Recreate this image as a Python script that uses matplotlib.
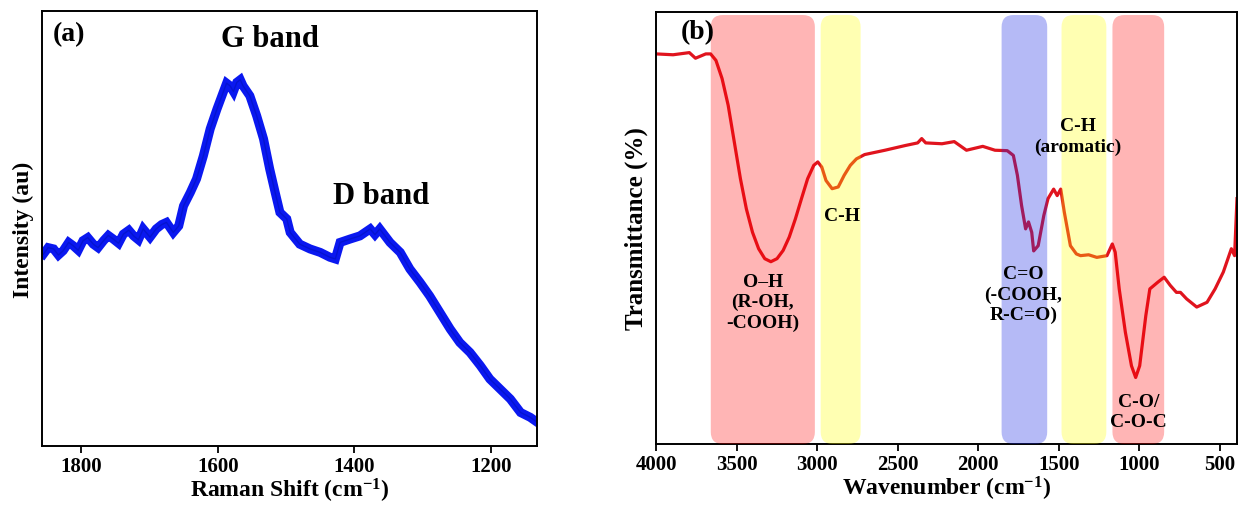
import matplotlib
matplotlib.use("Agg")
import matplotlib.pyplot as plt
import matplotlib.transforms as mtransforms
from matplotlib.patches import FancyBboxPatch

plt.rcParams["font.family"] = ["Liberation Serif", "DejaVu Serif"]
plt.rcParams["font.weight"] = "bold"
plt.rcParams["axes.labelweight"] = "bold"
plt.rcParams["mathtext.fontset"] = "custom"
plt.rcParams["mathtext.rm"] = "Liberation Serif:bold"
plt.rcParams["mathtext.it"] = "Liberation Serif:bold"
plt.rcParams["mathtext.bf"] = "Liberation Serif:bold"

# ---------------- (a) Raman spectrum
raman_shift = [1855, 1848, 1840, 1833, 1826, 1818, 1811, 1804, 1797, 1790,
               1782, 1775, 1767, 1760, 1753, 1745, 1738, 1730, 1723, 1716,
               1709, 1699, 1690, 1682, 1675, 1665, 1657, 1650, 1640, 1631,
               1621, 1611, 1601, 1592, 1587, 1582, 1577, 1572, 1567, 1563,
               1553, 1543, 1533, 1524, 1516, 1509, 1499, 1494, 1480, 1465,
               1450, 1436, 1428, 1421, 1406, 1392, 1377, 1370, 1363, 1348,
               1333, 1319, 1304, 1290, 1275, 1260, 1246, 1231, 1216, 1202,
               1187, 1172, 1157, 1143, 1133]
raman_intensity = [44.1, 45.6, 45.3, 43.9, 44.9, 46.8, 46.0, 45.0, 47.2, 47.9,
                   46.4, 45.6, 47.2, 48.4, 47.6, 46.6, 48.7, 49.6, 48.3, 47.4,
                   49.9, 48.0, 49.9, 50.9, 51.4, 49.1, 50.6, 55.2, 58.3, 61.4,
                   66.7, 72.9, 77.5, 81.3, 83.4, 82.8, 81.5, 83.6, 84.2, 82.8,
                   80.5, 75.9, 70.6, 63.7, 58.3, 53.7, 52.2, 49.1, 46.4, 45.3,
                   44.5, 43.4, 43.0, 46.8, 47.6, 48.3, 49.9, 48.6, 49.9, 46.8,
                   44.5, 40.7, 37.6, 34.5, 30.7, 26.9, 23.8, 21.5, 18.5, 15.4,
                   13.1, 10.8, 7.7, 6.6, 5.5]
raman_ticks = [1800, 1600, 1400, 1200]

# ---------------- (b) FTIR spectrum
wavenumber = [4000, 3894, 3793, 3755, 3691, 3661, 3628, 3590, 3552, 3514,
              3476, 3439, 3401, 3363, 3325, 3287, 3249, 3211, 3173, 3135,
              3097, 3059, 3021, 2996, 2971, 2945, 2907, 2869, 2832, 2794,
              2756, 2705, 2579, 2452, 2376, 2351, 2326, 2225, 2149, 2073,
              1972, 1896, 1820, 1782, 1757, 1731, 1706, 1688, 1668, 1656,
              1628, 1593, 1567, 1532, 1510, 1488, 1466, 1428, 1391, 1365,
              1315, 1264, 1201, 1168, 1150, 1125, 1087, 1049, 1023, 998,
              960, 935, 884, 846, 808, 770, 745, 707, 644, 580,
              530, 479, 429, 409, 394]
transmittance = [90.3, 90.1, 90.6, 89.3, 90.3, 90.3, 88.8, 84.6, 78.4, 69.9,
                 61.4, 54.4, 49.0, 45.2, 42.9, 42.2, 42.9, 44.8, 47.9, 52.1,
                 56.8, 61.4, 64.5, 65.3, 64.1, 61.0, 59.1, 59.5, 62.2, 64.5,
                 66.0, 67.0, 68.0, 69.1, 69.7, 70.7, 69.7, 69.5, 70.0, 68.0,
                 68.9, 68.0, 67.9, 66.8, 62.2, 55.2, 49.8, 51.4, 49.0, 44.7,
                 45.9, 52.9, 56.8, 59.0, 57.5, 59.0, 53.7, 45.9, 44.0, 43.6,
                 43.8, 43.2, 43.6, 46.3, 44.4, 35.9, 25.9, 18.1, 15.4, 18.1,
                 29.7, 35.9, 37.5, 38.6, 36.7, 35.1, 35.1, 33.6, 31.7, 32.8,
                 35.9, 39.8, 45.2, 43.6, 56.8]
ftir_ticks = [4000, 3500, 3000, 2500, 2000, 1500, 1000, 500]

# shaded band regions (low, high wavenumber) and colours
band_ranges = [(3014, 3660), (2730, 2978), (1572, 1855), (1205, 1483), (846, 1167)]
band_colors = ["#ff0000", "#ffff00", "#1a2ae6", "#ffff00", "#ff0000"]
band_alpha = [0.29, 0.30, 0.32, 0.30, 0.29]

fig = plt.figure(figsize=(12.39, 5.06), dpi=100)
W, H = 1239, 506

ax1 = fig.add_axes([42 / W, (H - 447) / H, (537 - 42) / W, (447 - 12) / H])
ax2 = fig.add_axes([656 / W, (H - 445) / H, (1237 - 656) / W, (445 - 13) / H])

for ax in (ax1, ax2):
    for s in ax.spines.values():
        s.set_linewidth(1.4)
    ax.set_yticks([])
    ax.tick_params(axis="x", direction="out", length=5, width=1.3,
                   labelsize=15, pad=2)

# ---- panel (a)
ax1.plot(raman_shift, raman_intensity, color="#0a18f0", lw=6.5,
         solid_joinstyle="miter")
ax1.plot(raman_shift, raman_intensity, color="#0010b0", lw=1.0, alpha=0.5)
ax1.set_xlim(1857, 1133)
ax1.set_ylim(0, 100)
ax1.set_xticks(raman_ticks)
ax1.set_xlabel("Raman Shift (cm$^{-1}$)", fontsize=17, labelpad=0)
ax1.set_ylabel("Intensity (au)", fontsize=17, labelpad=6)
ax1.text(0.022, 0.947, "(a)", transform=ax1.transAxes, fontsize=20,
         ha="left", va="center")
ax1.text(0.461, 0.936, "G band", transform=ax1.transAxes, fontsize=22,
         ha="center", va="center")
ax1.text(0.685, 0.575, "D band", transform=ax1.transAxes, fontsize=22,
         ha="center", va="center")

# ---- panel (b)
ax2.plot(wavenumber, transmittance, color="#e0141e", lw=2.3, zorder=2)
ax2.set_xlim(4000, 394)
ax2.set_ylim(0, 100)
ax2.set_xticks(ftir_ticks)
ax2.set_xlabel("Wavenumber (cm$^{-1}$)", fontsize=17, labelpad=0)
ax2.set_ylabel("Transmittance (%)", fontsize=18, labelpad=6)

fig.canvas.draw()
bb = ax2.get_window_extent()
x_per_px = (4000 - 394) / bb.width
y_per_px = 1.0 / bb.height
blend = mtransforms.blended_transform_factory(ax2.transData, ax2.transAxes)
for (lo, hi), c, a in zip(band_ranges, band_colors, band_alpha):
    patch = FancyBboxPatch((lo, 0.0), hi - lo, 0.993,
                           boxstyle="round,pad=0,rounding_size=%g" % (12 * x_per_px),
                           mutation_aspect=y_per_px / x_per_px,
                           transform=blend, facecolor=c, edgecolor="none",
                           alpha=a, zorder=3, clip_on=True)
    ax2.add_patch(patch)

lab = dict(transform=ax2.transAxes, fontsize=14, ha="center", va="center",
           linespacing=1.25, zorder=5)
ax2.text(0.043, 0.954, "(b)", transform=ax2.transAxes, fontsize=20,
         ha="left", va="center", zorder=5)
ax2.text(0.184, 0.329, "O\u2013H\n(R-OH,\n-COOH)", **lab)
ax2.text(0.320, 0.528, "C-H", **lab)
ax2.text(0.632, 0.347, "C=O\n(-COOH,\nR-C=O)", **lab)
ax2.text(0.726, 0.713, "C-H\n(aromatic)", **lab)
ax2.text(0.831, 0.076, "C-O/\nC-O-C", **lab)

fig.savefig("out.png", dpi=100)
